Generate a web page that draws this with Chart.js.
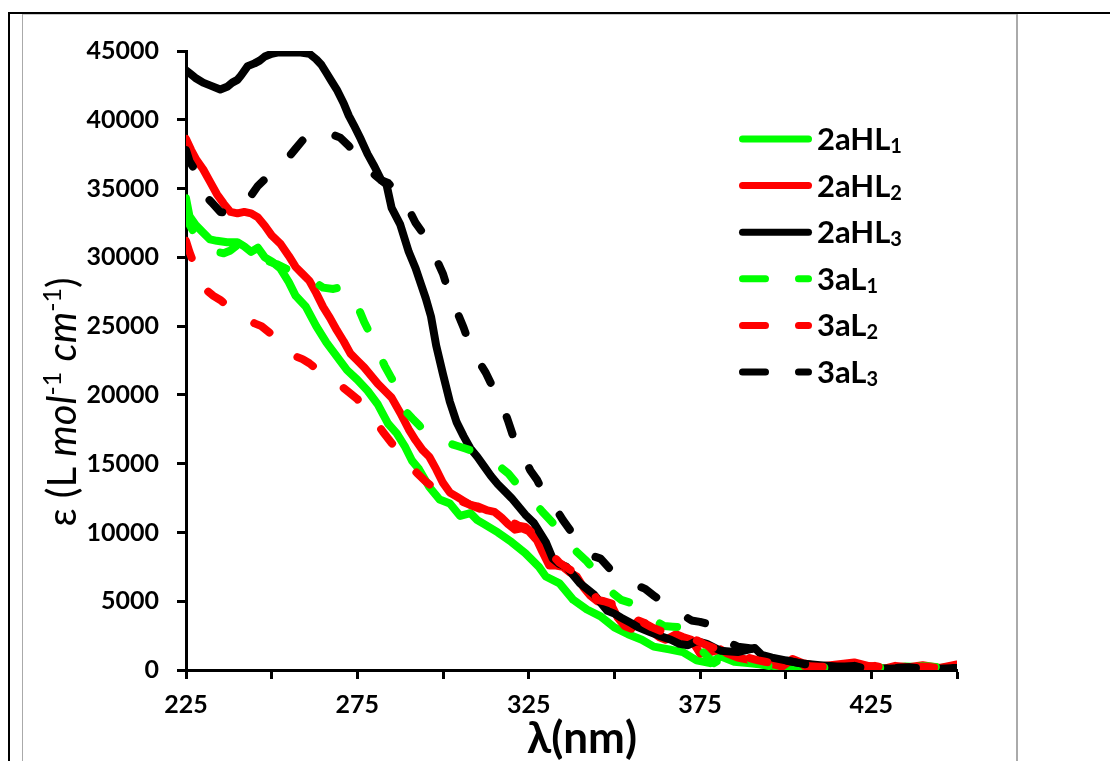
<!DOCTYPE html>
<html lang="en">
<head>
<meta charset="UTF-8">
<title>UV-Vis spectra</title>
<script src="https://cdn.jsdelivr.net/npm/chart.js"></script>
<style>
  html, body { margin: 0; padding: 0; background: #fff; }
  #wrap { position: relative; width: 1110px; height: 761px; overflow: hidden; }
  #chart { position: absolute; left: 0; top: 0; }
  .ln { position: absolute; }
</style>
</head>
<body>
<div id="wrap">
  <div class="ln" style="left:8px;top:12px;width:1102px;height:2px;background:#000"></div>
  <div class="ln" style="left:8px;top:12px;width:2px;height:749px;background:#000"></div>
  <div class="ln" style="left:22px;top:14px;width:995px;height:1px;background:#c8c8c8"></div>
  <div class="ln" style="left:22px;top:14px;width:1px;height:747px;background:#aaa"></div>
  <div class="ln" style="left:1016px;top:14px;width:2px;height:747px;background:#aaa"></div>
  <canvas id="chart" width="1110" height="761"></canvas>
</div>

<script>
  // series names (subscript digit kept apart so it can be drawn smaller)
  const seriesNames = ["2aHL", "2aHL", "2aHL", "3aL", "3aL", "3aL"];
  const seriesSubs = ["1", "2", "3", "1", "2", "3"];
  const seriesColors = ["#00ff00", "#ff0000", "#000000", "#00ff00", "#ff0000", "#000000"];
  const seriesDashed = [false, false, false, true, true, true];

  // wavelength (nm) and epsilon pairs
  const wl_2aHL1 = [225,226,228,230,232,234,237,240,242,244,246,248,250,252.5,255,257,260,263,266,269,272,275,278,281,284,286.5,289,291,293,296,299,302,305,308,310,312,316,320,324,328,330,334,338,342,346,350,354,358,361.5,366,370,374,378,381,385,389,393,398,403,408,414,420,425,430,435,440,445,450];
  const eps_2aHL1 = [34300,33000,32300,31800,31300,31200,31100,31100,30800,30400,30700,30000,29700,29200,28200,27200,26400,25000,23800,22800,21800,21100,20300,19300,17900,17200,16200,15200,14600,13300,12400,12100,11200,11400,10900,10600,10000,9300,8500,7500,6800,6300,5100,4400,3900,3100,2600,2200,1700,1500,1300,700,500,1000,600,500,400,250,200,120,250,200,100,130,250,200,150,250];

  const wl_2aHL2 = [225,226.5,228,230,232,234,236,238,240,242,244,246,248,250,252.5,255,257,259,261,263,265,267,269,271,273,275,277,279,281,283,285,287.5,290,292,294,296,298,300,302,304,306,308,310,313,315,317,319,321,323,325,327.5,329,331,333,335,337,339,341,343,345,347,349,351,353,355,357,359,361,363,365,368,370,372.5,375,378,381,383,386,390,395,399,402,405,410,415,420,424,428,432,436,440,445,450];
  const eps_2aHL2 = [38600,37800,37100,36400,35500,34600,33900,33300,33200,33300,33200,32900,32300,31600,31000,30100,29300,28800,28300,27400,26400,25600,24700,23900,23000,22500,22000,21400,20800,20300,19800,18700,17500,16700,16000,15500,14600,13600,12900,12600,12300,12000,11900,11600,11500,11100,10600,10200,10300,10100,9400,8600,7600,7600,7500,7100,6800,6000,5400,5000,4900,4800,3800,3200,3000,3600,3400,2800,2400,2200,2600,2400,2200,1200,1300,1500,1200,900,700,500,250,800,500,250,400,550,300,50,300,200,350,150,400];

  const wl_2aHL3 = [225,226.5,228,230,232,235,237,238.5,240,241,243,245,246.5,248,250,252,255,258,261,263,264.5,266,267.5,269,271,272.5,274,276,278,280,282,283.5,285,287.5,290,292,293.5,295,296.5,298,300,302,304,306,308,310,312,314,316,318,320,322,324,326.5,328,330,332,334,336,338,340,342,344,346,348,350,352,355,357,360,363,366.5,369,371.5,374,377,381,386,391,393,396,400,404,410,415,420,425,430,435,440,445,450];
  const eps_2aHL3 = [43600,43300,43000,42700,42500,42200,42400,42700,42900,43200,43900,44100,44300,44600,44800,44900,44900,44900,44800,44400,44000,43400,42800,42200,41200,40300,39600,38600,37500,36600,35600,35300,33600,32400,30400,29200,28100,27000,25700,23600,21500,19500,18000,17000,16100,15500,14800,14100,13500,13000,12500,11900,11300,10700,10100,9300,8100,7700,7500,6900,6300,5900,5500,4900,4300,4100,3800,3400,3100,2800,2500,2200,1900,1800,2100,1900,1400,1300,1600,1100,900,700,500,350,250,250,100,100,150,100,100,150];

  const wl_3aL1 = [225,226,228,230,232,234,236,238,240,242,245,248,251.5,254,257,259.5,262,265,268,271,273,275,277,279,281,283,285,287,289.5,291,293,295,298,301.5,304,306.5,309,312,314,316.5,319,322,325,327,329,332,335,337,339,342,345,347,349.5,352,354.5,356,358,361,364.5,367,369.5,372,374,376,379,382,385,388,391,395,400,405,410,415,420,425,430,435,440,445,450];
  const eps_3aL1 = [33200,32400,31500,30800,30600,30400,30300,30500,30900,30600,30100,29800,29500,29200,28900,28800,28300,27800,27700,27900,27200,26500,25300,24300,23200,22100,21200,20400,18700,18300,17800,17200,16800,16500,16300,16100,15900,15500,15100,14800,14300,13400,12500,12100,11500,10700,9800,9200,8600,7900,7000,6400,5600,5100,4900,4800,4500,3700,3200,3150,3100,2600,2000,1300,500,900,1200,900,500,300,250,200,150,300,200,150,200,100,300,200,200];

  const wl_3aL2 = [225,226,227.5,229,231,233,235,237,240,243,245,247,249,251,253,255,257,259,261,263,265,267,269,271,272.5,275,278,280,282.5,285,288,290,292.5,295,297.5,300,302,304,307,310,313,316,319,322,324,326,328.5,331,334,337,340.5,343,345,347,349.5,352,355,358,361,364,366.5,369,373,376,379,382,385.5,389,392,394,397,401,405,410,414,418,422,426,430,435,440,445,450];
  const eps_3aL2 = [31200,30400,29400,28400,27600,27200,26900,26500,26100,25500,25200,25000,24600,24200,23600,23000,22800,22600,22300,21900,21500,21100,20800,20500,20200,19700,18700,18200,17300,16500,15700,14900,14300,13700,13200,12800,12600,12400,12100,11800,11500,11200,10900,10500,10400,10000,9400,8600,7800,7300,6800,6000,5100,5000,4800,4300,3900,3500,3100,2800,2600,2500,2300,1900,1600,1300,1100,900,700,600,450,240,300,240,200,120,250,300,100,150,250,150,300];

  const wl_3aL3 = [225,226,227.5,229,230.5,232.5,235,238,240.5,242.5,244,246,248.5,251,253,255,257,259,260.5,262,263.5,265,266.5,268,270,272.5,275,277.5,280,282,284,286,288,290,292,294,296,298,300,302,304,306,308,310,312.5,315,317,319,321,323,325.5,327.5,329,331,333,335,337,338.5,341,343.5,346,348.5,351,354,356,359,361.5,364,367,370,372.5,375,378,380,382,383.5,386,389,391,394,397,400,404,408,411,415,420,424,428,432,436,440,445,450];
  const eps_3aL3 = [37800,37000,36400,35300,34500,34000,33300,33200,33500,33900,34500,35200,35800,36500,36800,37300,37900,38500,38900,39100,39000,38800,39000,38900,38700,38100,37400,36700,36000,35600,35400,34900,34300,33500,32500,31800,30900,29900,28800,27200,26100,24900,23500,22600,21600,20300,19500,18100,16600,15800,14500,13800,13000,12300,11700,10900,10200,9700,9100,8300,8100,7400,7000,6600,6200,5900,5400,5000,4500,4000,3600,3500,3300,3150,2500,2000,1700,1600,1500,1200,900,700,500,300,100,150,300,50,50,150,200,100,150,150];

  const seriesWl = [wl_2aHL1, wl_2aHL2, wl_2aHL3, wl_3aL1, wl_3aL2, wl_3aL3];
  const seriesEps = [eps_2aHL1, eps_2aHL2, eps_2aHL3, eps_3aL1, eps_3aL2, eps_3aL3];

  const xTicks = [225, 275, 325, 375, 425];
  const xMin = 225, xMax = 450, xStep = 25;
  const yMin = 0, yMax = 45000, yStep = 5000;

  const subChars = { "1": "\u2081", "2": "\u2082", "3": "\u2083" };
  const dash = [18, 38];

  const datasets = seriesNames.map((name, i) => ({
    label: name + subChars[seriesSubs[i]],
    data: seriesWl[i].map((x, k) => ({ x: x, y: seriesEps[i][k] })),
    borderColor: seriesColors[i],
    borderWidth: 8,
    borderDash: seriesDashed[i] ? dash : [],
    borderCapStyle: "round",
    borderJoinStyle: "round",
    pointRadius: 0,
    tension: 0,
    fill: false,
    order: seriesNames.length - i
  }));

  // legend at the right, with real subscripts
  const sideLegend = {
    id: "sideLegend",
    afterDraw(chart) {
      const ctx = chart.ctx;
      chart.data.datasets.forEach((ds, i) => {
        const y = 139 + i * 46.6;
        ctx.save();
        ctx.strokeStyle = ds.borderColor;
        ctx.lineWidth = 7;
        ctx.lineCap = "round";
        ctx.setLineDash(seriesDashed[i] ? [23, 33] : []);
        ctx.beginPath();
        ctx.moveTo(742.5, y);
        ctx.lineTo(808.5, y);
        ctx.stroke();
        ctx.setLineDash([]);
        ctx.fillStyle = "#000";
        ctx.textBaseline = "alphabetic";
        ctx.font = "bold 31px Lato";
        const base = y + 11;
        ctx.fillText(seriesNames[i], 817, base);
        const w = ctx.measureText(seriesNames[i]).width;
        ctx.font = "bold 20px Lato";
        ctx.fillText(seriesSubs[i], 817 + w, base + 3);
        ctx.restore();
      });
    }
  };

  // rotated y title with italics and superscripts, plus the x title
  const axisTitles = {
    id: "axisTitles",
    afterDraw(chart) {
      const ctx = chart.ctx;
      const parts = [
        { t: "\u03b5 (L ", f: "40px Lato", dy: 0 },
        { t: "mol", f: "italic 40px Lato", dy: 0 },
        { t: "-1", f: "25px Lato", dy: -15 },
        { t: " ", f: "40px Lato", dy: 0 },
        { t: "cm", f: "italic 40px Lato", dy: 0 },
        { t: "-1", f: "25px Lato", dy: -15 },
        { t: ")", f: "40px Lato", dy: 0 }
      ];
      ctx.save();
      ctx.translate(76, 402);
      ctx.rotate(-Math.PI / 2);
      ctx.fillStyle = "#000";
      ctx.textBaseline = "alphabetic";
      let total = 0;
      parts.forEach(p => { ctx.font = p.f; p.w = ctx.measureText(p.t).width; total += p.w; });
      let x = -total / 2;
      parts.forEach(p => { ctx.font = p.f; ctx.fillText(p.t, x, p.dy); x += p.w; });
      ctx.restore();

      ctx.save();
      ctx.fillStyle = "#000";
      ctx.font = "bold 44px Lato";
      ctx.textAlign = "center";
      ctx.textBaseline = "alphabetic";
      ctx.fillText("\u03bb(nm)", 582, 753);
      ctx.restore();
    }
  };

  const axisFont = { family: "Lato", size: 25, weight: "bold" };
  const gridOpts = { display: true, drawOnChartArea: false, drawTicks: true, tickLength: 9, tickWidth: 3, tickColor: "#000" };
  const borderOpts = { display: true, color: "#000", width: 3 };

  new Chart(document.getElementById("chart"), {
    type: "line",
    data: { datasets: datasets },
    options: {
      responsive: false,
      animation: false,
      layout: { padding: { left: 0, right: 153, top: 51, bottom: 0 } },
      plugins: { legend: { display: false }, tooltip: { enabled: false } },
      scales: {
        x: {
          type: "linear",
          min: xMin, max: xMax,
          afterFit: s => { s.height = 91; },
          ticks: {
            stepSize: xStep, autoSkip: false, maxRotation: 0, padding: 11,
            color: "#000", font: axisFont,
            callback: v => xTicks.includes(v) ? String(v) : ""
          },
          grid: gridOpts,
          border: borderOpts
        },
        y: {
          min: yMin, max: yMax,
          afterFit: s => { s.width = 186; },
          ticks: {
            stepSize: yStep, padding: 18, color: "#000", font: axisFont,
            callback: v => String(v)
          },
          grid: gridOpts,
          border: borderOpts
        }
      }
    },
    plugins: [sideLegend, axisTitles]
  });
</script>
</body>
</html>
